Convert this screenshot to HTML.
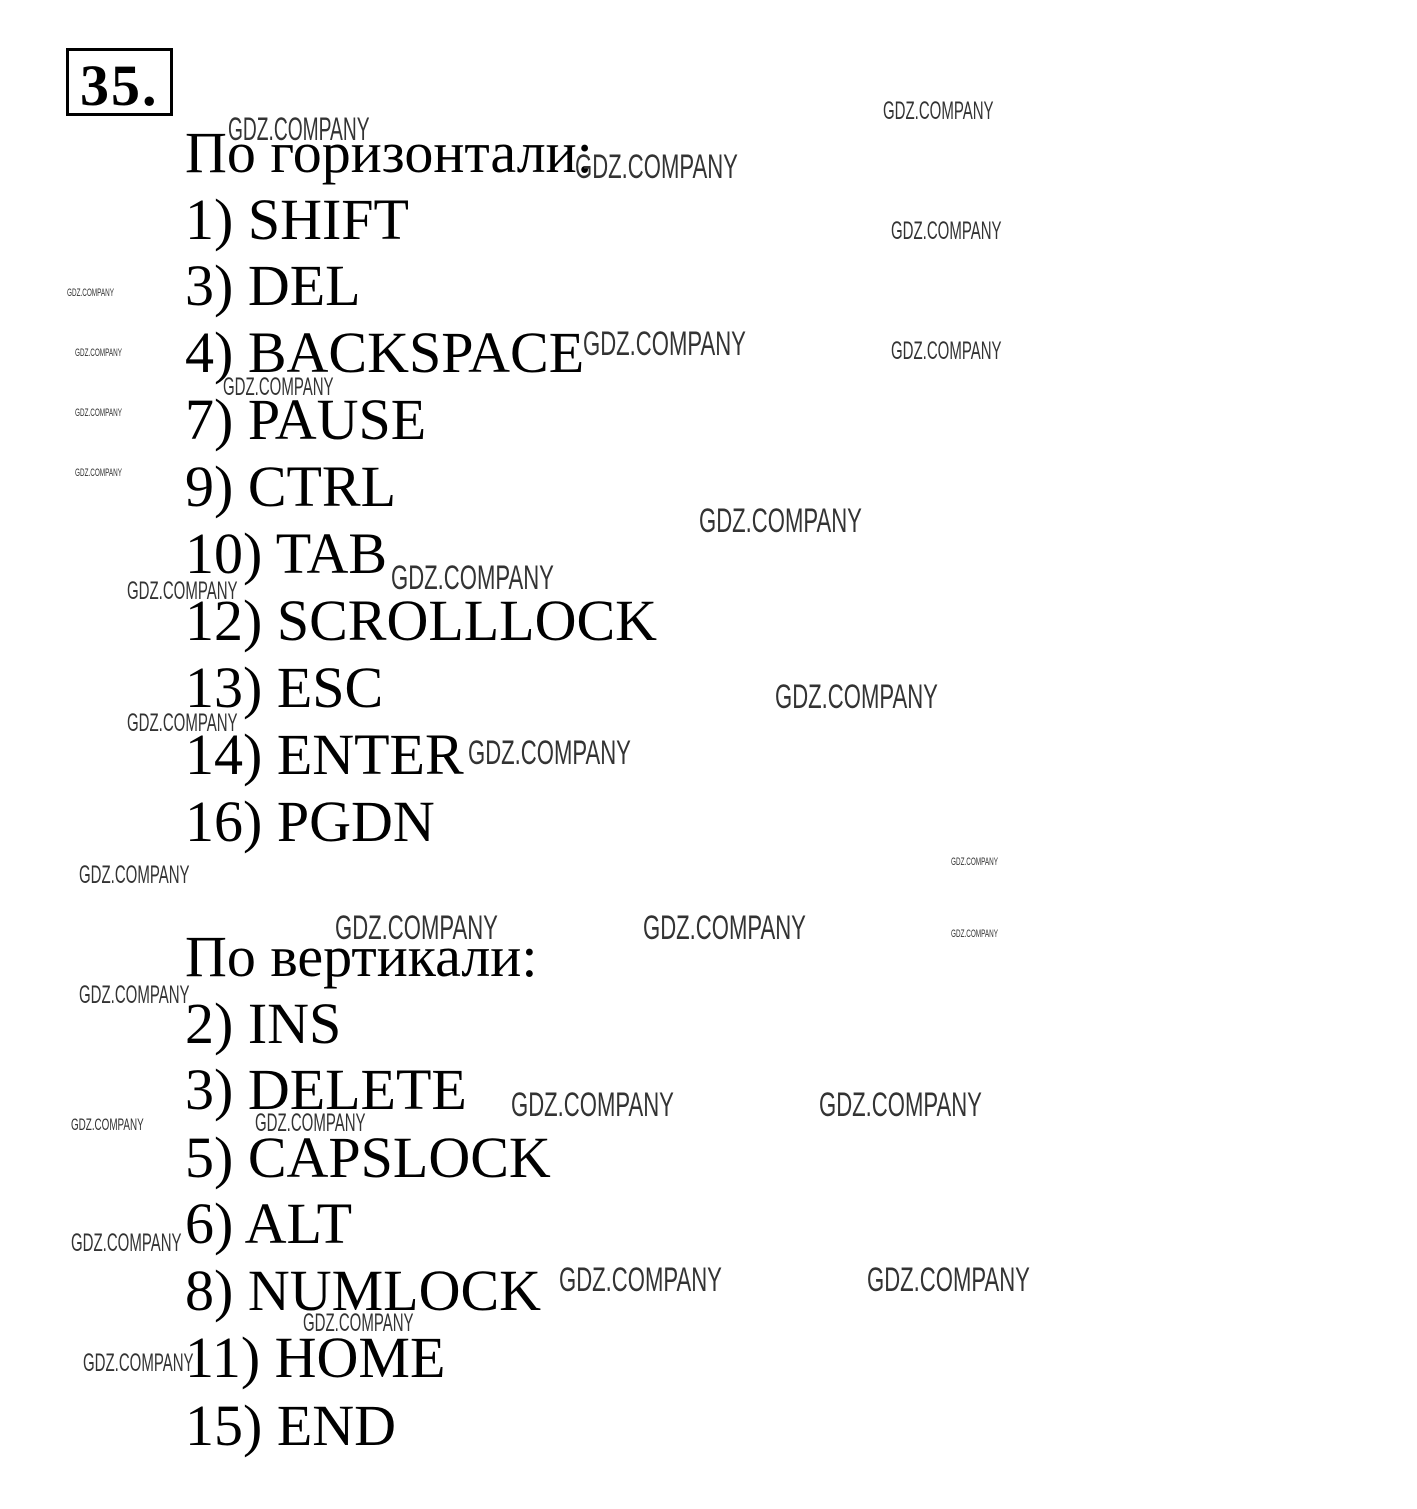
<!DOCTYPE html>
<html><head><meta charset="utf-8"><style>
body{margin:0;width:1417px;height:1509px;background:#fff;position:relative;overflow:hidden}
.t{position:absolute;left:185px;font-family:"Liberation Serif","Noto Serif CJK SC",serif;font-size:58px;line-height:1;color:#000;white-space:nowrap;margin-top:3px}
.w{position:absolute;font-family:"Liberation Sans Narrow","Liberation Sans",sans-serif;color:#333;white-space:nowrap;transform-origin:0 0;line-height:1}
.b{font-size:34px;transform:scaleX(.65)}
.m{font-size:25px;transform:scaleX(.6)}
.s{font-size:11px;transform:scaleX(.58)}
</style></head><body>
<div style="position:absolute;left:66px;top:48px;width:101px;height:62px;border:3px solid #000"></div>
<div style="position:absolute;left:80px;top:57px;font-family:'Liberation Serif',serif;font-weight:bold;font-size:58px;letter-spacing:2px;line-height:1">35.</div>
<div class="t" style="top:121px">По горизонтали:</div>
<div class="t" style="top:188px">1) SHIFT</div>
<div class="t" style="top:254px">3) DEL</div>
<div class="t" style="top:321px">4) BACKSPACE</div>
<div class="t" style="top:388px">7) PAUSE</div>
<div class="t" style="top:455px">9) CTRL</div>
<div class="t" style="top:522px">10) TAB</div>
<div class="t" style="top:589px">12) SCROLLLOCK</div>
<div class="t" style="top:656px">13) ESC</div>
<div class="t" style="top:723px">14) ENTER</div>
<div class="t" style="top:790px">16) PGDN</div>
<div class="t" style="top:925px">По вертикали:</div>
<div class="t" style="top:992px">2) INS</div>
<div class="t" style="top:1058px">3) DELETE</div>
<div class="t" style="top:1126px">5) CAPSLOCK</div>
<div class="t" style="top:1192px">6) ALT</div>
<div class="t" style="top:1259px">8) NUMLOCK</div>
<div class="t" style="top:1326px">11) HOME</div>
<div class="t" style="top:1394px">15) END</div>

<div class="w m" style="left:228px;top:113px;font-size:32px">GDZ.COMPANY</div>
<div class="w b" style="left:575px;top:150px">GDZ.COMPANY</div>
<div class="w m" style="left:883px;top:99px">GDZ.COMPANY</div>
<div class="w m" style="left:891px;top:219px">GDZ.COMPANY</div>
<div class="w m" style="left:891px;top:339px">GDZ.COMPANY</div>
<div class="w b" style="left:583px;top:327px">GDZ.COMPANY</div>
<div class="w m" style="left:223px;top:375px">GDZ.COMPANY</div>
<div class="w s" style="left:67px;top:288px">GDZ.COMPANY</div>
<div class="w s" style="left:75px;top:348px">GDZ.COMPANY</div>
<div class="w s" style="left:75px;top:408px">GDZ.COMPANY</div>
<div class="w s" style="left:75px;top:468px">GDZ.COMPANY</div>
<div class="w b" style="left:699px;top:504px">GDZ.COMPANY</div>
<div class="w b" style="left:391px;top:561px">GDZ.COMPANY</div>
<div class="w m" style="left:127px;top:579px">GDZ.COMPANY</div>
<div class="w b" style="left:775px;top:680px">GDZ.COMPANY</div>
<div class="w m" style="left:127px;top:711px">GDZ.COMPANY</div>
<div class="w b" style="left:468px;top:736px">GDZ.COMPANY</div>
<div class="w m" style="left:79px;top:863px">GDZ.COMPANY</div>
<div class="w s" style="left:951px;top:857px">GDZ.COMPANY</div>
<div class="w s" style="left:951px;top:929px">GDZ.COMPANY</div>
<div class="w b" style="left:335px;top:911px">GDZ.COMPANY</div>
<div class="w b" style="left:643px;top:911px">GDZ.COMPANY</div>
<div class="w m" style="left:79px;top:983px">GDZ.COMPANY</div>
<div class="w b" style="left:511px;top:1088px">GDZ.COMPANY</div>
<div class="w b" style="left:819px;top:1088px">GDZ.COMPANY</div>
<div class="w s" style="left:71px;top:1116px;font-size:17px">GDZ.COMPANY</div>
<div class="w m" style="left:255px;top:1111px">GDZ.COMPANY</div>
<div class="w m" style="left:71px;top:1231px">GDZ.COMPANY</div>
<div class="w b" style="left:559px;top:1263px">GDZ.COMPANY</div>
<div class="w b" style="left:867px;top:1263px">GDZ.COMPANY</div>
<div class="w m" style="left:303px;top:1311px">GDZ.COMPANY</div>
<div class="w m" style="left:83px;top:1351px">GDZ.COMPANY</div>
</body></html>
